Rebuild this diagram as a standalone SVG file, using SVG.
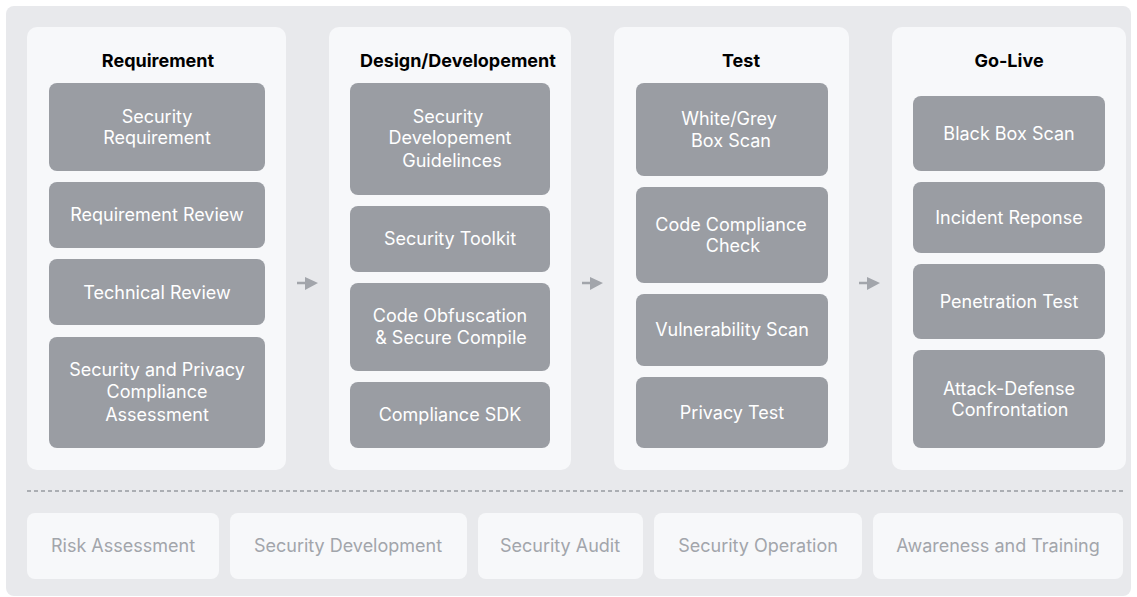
<svg xmlns="http://www.w3.org/2000/svg" width="1137" height="597" viewBox="0 0 1137 597">
  <defs>
    <style>
      .bg { fill: #e8e9ec; }
      .col { fill: #f7f8fa; }
      .node { fill: #9a9da3; }
      .base { fill: #f7f8fa; }
      .title { font-family: Inter, "Liberation Sans", sans-serif; font-size: 18px; font-weight: 700; fill: #000; text-anchor: middle; }
      .lbl { font-family: Inter, "Liberation Sans", sans-serif; font-size: 18px; fill: #ffffff; text-anchor: middle; }
      .blbl { font-family: Inter, "Liberation Sans", sans-serif; font-size: 18px; fill: #a2a5ab; text-anchor: middle; }
      .flow { stroke: #a2a5ab; stroke-width: 2.5; fill: none; }
      .head { fill: #a2a5ab; }
      .divider { stroke: #abaeb3; stroke-width: 2; stroke-dasharray: 4 3; fill: none; }
    </style>
  </defs>

  <rect class="bg" x="6" y="6" width="1125" height="590" rx="8"/>

  <!-- Phase: Requirement -->
  <g id="phase-requirement">
    <rect class="col" x="27" y="27" width="259" height="443" rx="10"/>
    <text class="title" x="158" y="67">Requirement</text>
    <g id="security-requirement">
      <rect class="node" x="49" y="83" width="216" height="88" rx="8"/>
      <text class="lbl" x="157" y="123">Security</text>
      <text class="lbl" x="157" y="144">Requirement</text>
    </g>
    <g id="requirement-review">
      <rect class="node" x="49" y="182" width="216" height="66" rx="8"/>
      <text class="lbl" x="157" y="221">Requirement Review</text>
    </g>
    <g id="technical-review">
      <rect class="node" x="49" y="259" width="216" height="66" rx="8"/>
      <text class="lbl" x="157" y="299">Technical Review</text>
    </g>
    <g id="privacy-compliance-assessment">
      <rect class="node" x="49" y="337" width="216" height="111" rx="8"/>
      <text class="lbl" x="157" y="376">Security and Privacy</text>
      <text class="lbl" x="157" y="398">Compliance</text>
      <text class="lbl" x="157" y="421">Assessment</text>
    </g>
  </g>

  <!-- Phase: Design/Development -->
  <g id="phase-design">
    <rect class="col" x="329" y="27" width="242" height="443" rx="10"/>
    <text class="title" x="458" y="67">Design/Developement</text>
    <g id="dev-guidelines">
      <rect class="node" x="350" y="83" width="200" height="112" rx="8"/>
      <text class="lbl" x="448" y="123">Security</text>
      <text class="lbl" x="450" y="144">Developement</text>
      <text class="lbl" x="452" y="167">Guidelinces</text>
    </g>
    <g id="security-toolkit">
      <rect class="node" x="350" y="206" width="200" height="66" rx="8"/>
      <text class="lbl" x="450" y="245">Security Toolkit</text>
    </g>
    <g id="code-obfuscation">
      <rect class="node" x="350" y="283" width="200" height="88" rx="8"/>
      <text class="lbl" x="450" y="322">Code Obfuscation</text>
      <text class="lbl" x="451" y="344">&amp; Secure Compile</text>
    </g>
    <g id="compliance-sdk">
      <rect class="node" x="350" y="382" width="200" height="66" rx="8"/>
      <text class="lbl" x="450" y="421">Compliance SDK</text>
    </g>
  </g>

  <!-- Phase: Test -->
  <g id="phase-test">
    <rect class="col" x="614" y="27" width="235" height="443" rx="10"/>
    <text class="title" x="741" y="67">Test</text>
    <g id="white-grey-box-scan">
      <rect class="node" x="636" y="83" width="192" height="93" rx="8"/>
      <text class="lbl" x="729" y="125">White/Grey</text>
      <text class="lbl" x="731" y="147">Box Scan</text>
    </g>
    <g id="code-compliance-check">
      <rect class="node" x="636" y="187" width="192" height="96" rx="8"/>
      <text class="lbl" x="731" y="231">Code Compliance</text>
      <text class="lbl" x="733" y="252">Check</text>
    </g>
    <g id="vulnerability-scan">
      <rect class="node" x="636" y="294" width="192" height="72" rx="8"/>
      <text class="lbl" x="732" y="336">Vulnerability Scan</text>
    </g>
    <g id="privacy-test">
      <rect class="node" x="636" y="377" width="192" height="71" rx="8"/>
      <text class="lbl" x="732" y="419">Privacy Test</text>
    </g>
  </g>

  <!-- Phase: Go-Live -->
  <g id="phase-golive">
    <rect class="col" x="892" y="27" width="234" height="443" rx="10"/>
    <text class="title" x="1009" y="67">Go-Live</text>
    <g id="black-box-scan">
      <rect class="node" x="913" y="96" width="192" height="75" rx="8"/>
      <text class="lbl" x="1009" y="140">Black Box Scan</text>
    </g>
    <g id="incident-response">
      <rect class="node" x="913" y="182" width="192" height="71" rx="8"/>
      <text class="lbl" x="1009" y="224">Incident Reponse</text>
    </g>
    <g id="penetration-test">
      <rect class="node" x="913" y="264" width="192" height="75" rx="8"/>
      <text class="lbl" x="1009" y="308">Penetration Test</text>
    </g>
    <g id="attack-defense">
      <rect class="node" x="913" y="350" width="192" height="98" rx="8"/>
      <text class="lbl" x="1009" y="395">Attack-Defense</text>
      <text class="lbl" x="1010" y="416">Confrontation</text>
    </g>
  </g>

  <!-- Flow arrows between phases -->
  <g id="connectors">
    <line class="flow" x1="297" y1="283" x2="308" y2="283"/>
    <polygon class="head" points="305,277 318,283 305,290"/>
    <line class="flow" x1="582" y1="283" x2="593" y2="283"/>
    <polygon class="head" points="590,277 603,283 590,290"/>
    <line class="flow" x1="859" y1="283" x2="870" y2="283"/>
    <polygon class="head" points="867,277 880,283 867,290"/>
  </g>

  <line class="divider" x1="27" y1="491" x2="1126" y2="491"/>

  <!-- Continuous activities -->
  <g id="risk-assessment">
    <rect class="base" x="27" y="513" width="192" height="66" rx="8"/>
    <text class="blbl" x="123" y="552">Risk Assessment</text>
  </g>
  <g id="security-development">
    <rect class="base" x="230" y="513" width="237" height="66" rx="8"/>
    <text class="blbl" x="348" y="552">Security Development</text>
  </g>
  <g id="security-audit">
    <rect class="base" x="478" y="513" width="165" height="66" rx="8"/>
    <text class="blbl" x="560" y="552">Security Audit</text>
  </g>
  <g id="security-operation">
    <rect class="base" x="654" y="513" width="208" height="66" rx="8"/>
    <text class="blbl" x="758" y="552">Security Operation</text>
  </g>
  <g id="awareness-training">
    <rect class="base" x="873" y="513" width="250" height="66" rx="8"/>
    <text class="blbl" x="998" y="552">Awareness and Training</text>
  </g>
</svg>
